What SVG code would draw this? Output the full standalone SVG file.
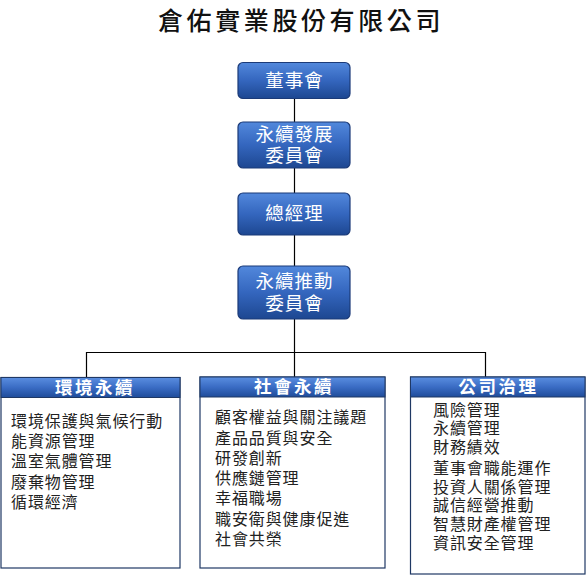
<svg xmlns="http://www.w3.org/2000/svg" width="586" height="575" viewBox="0 0 586 575">
<defs>
<linearGradient id="gBox" x1="0" y1="0" x2="0" y2="1">
<stop offset="0" stop-color="#5288dc"/>
<stop offset="0.5" stop-color="#3466be"/>
<stop offset="1" stop-color="#1d4791"/>
</linearGradient>
<linearGradient id="gHead" x1="0" y1="0" x2="0" y2="1">
<stop offset="0" stop-color="#5a8ee0"/>
<stop offset="0.5" stop-color="#3a6cc4"/>
<stop offset="1" stop-color="#1f4c9a"/>
</linearGradient>
<style>
.t{font-family:"Noto Sans CJK TC","Noto Sans CJK SC",sans-serif}
.box{fill:url(#gBox);stroke:#1b3a78;stroke-width:1.2}
.bt{fill:#ffffff;font-size:18.5px;letter-spacing:1px;text-anchor:middle}
.panel{fill:#ffffff;stroke:#1f3864;stroke-width:1.2}
.head{fill:url(#gHead);stroke:#1f3864;stroke-width:1}
.ht{fill:#ffffff;font-size:17.5px;font-weight:bold;letter-spacing:2.5px;text-anchor:middle}
.li{fill:#222222;font-size:16px;letter-spacing:0.9px}
.c{stroke:#000000;stroke-width:1.2;fill:none}
</style>
</defs>
<rect width="586" height="575" fill="#ffffff"/>
<text class="t" x="301" y="30" font-size="25" font-weight="500" letter-spacing="3.6" text-anchor="middle" fill="#111111">倉佑實業股份有限公司</text>
<g id="connectors">
<line class="c" x1="294.5" y1="98" x2="294.5" y2="122"/>
<line class="c" x1="294.5" y1="168" x2="294.5" y2="193"/>
<line class="c" x1="294.5" y1="235" x2="294.5" y2="266"/>
<line class="c" x1="294.5" y1="319" x2="294.5" y2="377"/>
<polyline class="c" points="86.5,377 86.5,352.5 485.5,352.5 485.5,377"/>
</g>
<g id="board">
<rect class="box" x="238" y="62.5" width="112" height="36" rx="5"/>
<text class="t bt" x="294.5" y="87">董事會</text>
</g>
<g id="sustain-dev">
<rect class="box" x="238" y="122" width="112" height="46" rx="5"/>
<text class="t bt" x="294.5" y="141">永續發展</text>
<text class="t bt" x="294.5" y="162">委員會</text>
</g>
<g id="gm">
<rect class="box" x="238" y="193" width="112" height="42" rx="5"/>
<text class="t bt" x="294.5" y="220">總經理</text>
</g>
<g id="sustain-promo">
<rect class="box" x="238" y="266" width="112" height="53" rx="5"/>
<text class="t bt" x="294.5" y="288">永續推動</text>
<text class="t bt" x="294.5" y="310">委員會</text>
</g>
<g id="env">
<rect class="panel" x="1" y="377.5" width="179" height="190.5"/>
<rect class="head" x="1" y="377.5" width="179" height="20"/>
<text class="t ht" x="95" y="393.5">環境永續</text>
<text class="t li" x="11" y="427">環境保護與氣候行動</text>
<text class="t li" x="11" y="447">能資源管理</text>
<text class="t li" x="11" y="467">溫室氣體管理</text>
<text class="t li" x="11" y="488">廢棄物管理</text>
<text class="t li" x="11" y="508">循環經濟</text>
</g>
<g id="social">
<rect class="panel" x="200" y="377" width="185" height="191"/>
<rect class="head" x="200" y="377" width="185" height="20"/>
<text class="t ht" x="294" y="393">社會永續</text>
<text class="t li" x="215" y="423">顧客權益與關注議題</text>
<text class="t li" x="215" y="444">產品品質與安全</text>
<text class="t li" x="215" y="464">研發創新</text>
<text class="t li" x="215" y="484">供應鏈管理</text>
<text class="t li" x="215" y="504">幸福職場</text>
<text class="t li" x="215" y="525">職安衛與健康促進</text>
<text class="t li" x="215" y="545">社會共榮</text>
</g>
<g id="gov">
<rect class="panel" x="410.5" y="377" width="174.5" height="197"/>
<rect class="head" x="410.5" y="377" width="174.5" height="20"/>
<text class="t ht" x="498.5" y="393">公司治理</text>
<text class="t li" x="433" y="416">風險管理</text>
<text class="t li" x="433" y="434">永續管理</text>
<text class="t li" x="433" y="453">財務績效</text>
<text class="t li" x="433" y="474">董事會職能運作</text>
<text class="t li" x="433" y="493">投資人關係管理</text>
<text class="t li" x="433" y="511">誠信經營推動</text>
<text class="t li" x="433" y="530">智慧財產權管理</text>
<text class="t li" x="433" y="549">資訊安全管理</text>
</g>
</svg>
